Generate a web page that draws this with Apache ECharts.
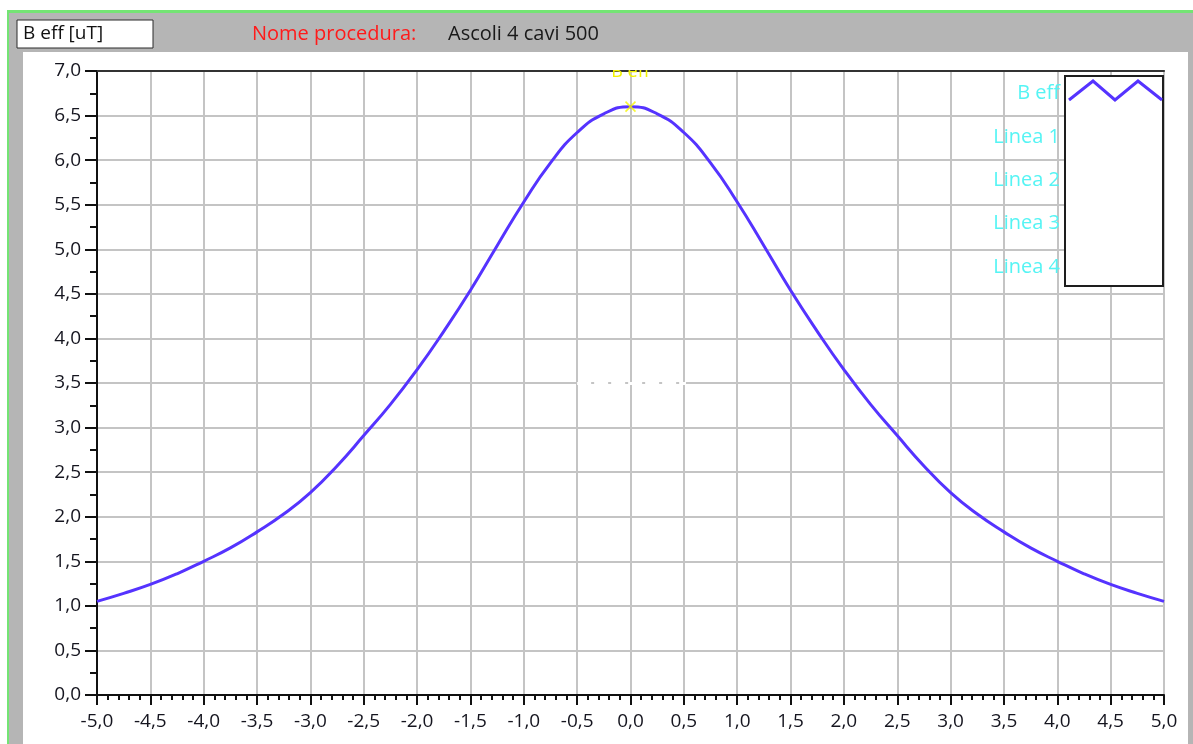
<!DOCTYPE html>
<html>
<head>
<meta charset="utf-8">
<script src="https://cdn.jsdelivr.net/npm/echarts@6/dist/echarts.min.js"></script>
<style>
html,body{margin:0;padding:0;background:#ffffff;}
#chart{width:1193px;height:744px;}
</style>
</head>
<body>
<div id="chart"></div>
<script>
// ---- data ----
const xValues = [-5.00,-4.75,-4.50,-4.25,-4.00,-3.75,-3.50,-3.25,-3.00,-2.75,-2.50,-2.25,-2.00,-1.75,-1.50,-1.25,-1.00,-0.75,-0.50,-0.25,
                 0.00,0.25,0.50,0.75,1.00,1.25,1.50,1.75,2.00,2.25,2.50,2.75,3.00,3.25,3.50,3.75,4.00,4.25,4.50,4.75,5.00];
const bEff    = [1.05,1.14,1.24,1.36,1.50,1.65,1.83,2.03,2.27,2.57,2.91,3.26,3.65,4.08,4.54,5.04,5.53,5.97,6.31,6.52,
                 6.60,6.52,6.31,5.97,5.53,5.04,4.54,4.08,3.65,3.26,2.91,2.57,2.27,2.03,1.83,1.65,1.50,1.36,1.24,1.14,1.05];
const peakPoint = [0.0, 6.60];
const cursorLineY = 3.5;
const cursorLineX = [-0.5, 0.52];
const legendNames = ['B eff', 'Linea 1', 'Linea 2', 'Linea 3', 'Linea 4'];
const headerUnit = 'B eff [uT]';
const headerLabel = 'Nome procedura:';
const headerValue = 'Ascoli 4 cavi 500';

const FONT = '"Open Sans", "Noto Sans", sans-serif';
const LINE_COLOR = '#5533ff';
const fmt = v => v.toFixed(1).replace('.', ',');

const chart = echarts.init(document.getElementById('chart'), null, {renderer: 'canvas'});

const legendY = [93, 137, 180, 223, 267];

const graphics = [
  // window frame
  {type:'rect', z:-10, shape:{x:7, y:10, width:1186, height:734}, style:{fill:'#b5b5b5'}, silent:true},
  {type:'rect', z:-9, shape:{x:7, y:10, width:1186, height:3}, style:{fill:'#74e474'}, silent:true},
  {type:'rect', z:-9, shape:{x:7, y:10, width:2, height:734}, style:{fill:'#74e474'}, silent:true},
  {type:'rect', z:-8, shape:{x:23, y:52, width:1165, height:692}, style:{fill:'#ffffff'}, silent:true},
  // header
  {type:'rect', z:5, shape:{x:17, y:20, width:136, height:28}, style:{fill:'#ffffff', stroke:'#2a2a2a', lineWidth:1}},
  {type:'text', z:6, x:23, y:34, style:{text:headerUnit, fill:'#111', font:'19px ' + FONT, textVerticalAlign:'middle'}},
  {type:'text', z:6, x:252, y:34, style:{text:headerLabel, fill:'#ff1a1a', font:'20px ' + FONT, textVerticalAlign:'middle'}},
  {type:'text', z:6, x:448, y:34, style:{text:headerValue, fill:'#1a1a1a', font:'20px ' + FONT, textVerticalAlign:'middle'}},
  // mask hiding top part of the clipped "B eff" plot label
  {type:'rect', z:200, shape:{x:590, y:52, width:80, height:18}, style:{fill:'#ffffff'}, silent:true},
  // legend box
  {type:'rect', z:100, shape:{x:1065, y:76, width:98, height:210}, style:{fill:'#ffffff', stroke:'#1e1e1e', lineWidth:2}},
  {type:'polyline', z:101, shape:{points:[[1069,100],[1093,81],[1115,100],[1138,81],[1162,100]]}, style:{stroke:LINE_COLOR, lineWidth:3, fill:null}}
];
legendNames.forEach((n, i) => {
  graphics.push({type:'text', z:101, x:1060, y:legendY[i],
    style:{text:n, fill:'#55f4f4', font:'20px ' + FONT, textAlign:'right', textVerticalAlign:'middle'}});
});

const option = {
  animation: false,
  backgroundColor: 'transparent',
  grid: {left: 97, right: 29, top: 71, bottom: 49, show: true, borderColor: '#b3b3b3', borderWidth: 2, backgroundColor: '#ffffff'},
  xAxis: [{
    type: 'value', min: -5, max: 5, interval: 0.5,
    axisLine: {show: true, onZero: false, lineStyle: {color: '#111', width: 2}},
    axisTick: {show: true, length: 10, lineStyle: {color: '#111', width: 2}},
    minorTick: {show: true, splitNumber: 5, length: 5, lineStyle: {color: '#111', width: 2}},
    splitLine: {show: true, lineStyle: {color: '#c4c4c4', width: 2}},
    axisLabel: {formatter: fmt, color: '#15151f', fontSize: 19, fontFamily: FONT, margin: 17}
  }, {
    type: 'value', min: -5, max: 5, position: 'top',
    axisLine: {show: true, onZero: false, lineStyle: {color: '#333', width: 2}},
    axisTick: {show: false}, axisLabel: {show: false}, splitLine: {show: false}
  }],
  yAxis: {
    type: 'value', min: 0, max: 7, interval: 0.5,
    axisLine: {show: true, onZero: false, lineStyle: {color: '#111', width: 2}},
    axisTick: {show: true, length: 12, lineStyle: {color: '#111', width: 2}},
    minorTick: {show: true, splitNumber: 2, length: 7, lineStyle: {color: '#111', width: 2}},
    splitLine: {show: true, lineStyle: {color: '#c4c4c4', width: 2}},
    axisLabel: {formatter: fmt, color: '#15151f', fontSize: 19, fontFamily: FONT, margin: 16}
  },
  series: [{
    name: 'B eff', type: 'line', xAxisIndex: 0,
    data: xValues.map((x, i) => [x, bEff[i]]),
    smooth: 0.5, showSymbol: false, symbol: 'none',
    lineStyle: {color: LINE_COLOR, width: 3},
    markLine: {
      silent: true, symbol: 'none', animation: false,
      lineStyle: {color: '#ffffff', width: 3, type: [14, 3]},
      label: {show: false},
      data: [[{coord: [cursorLineX[0], cursorLineY]}, {coord: [cursorLineX[1], cursorLineY]}]]
    },
    markPoint: {
      silent: true, animation: false,
      data: [{
        coord: [peakPoint[0], 7.0], symbol: 'circle', symbolSize: 1,
        itemStyle: {color: 'transparent'},
        label: {show: true, formatter: 'B eff', color: '#f2f200', fontSize: 18, fontFamily: FONT, position: 'inside', offset: [0, 1]}
      }]
    },
    z: 5
  }, {
    name: 'peak', type: 'scatter', xAxisIndex: 0,
    data: [peakPoint],
    symbol: 'path://M0,0L10,10M10,0L0,10', symbolSize: 10,
    itemStyle: {color: 'none', borderColor: '#f5f500', borderWidth: 1.6},
    z: 6
  }],
  graphic: graphics
};
chart.setOption(option);
</script>
</body>
</html>
